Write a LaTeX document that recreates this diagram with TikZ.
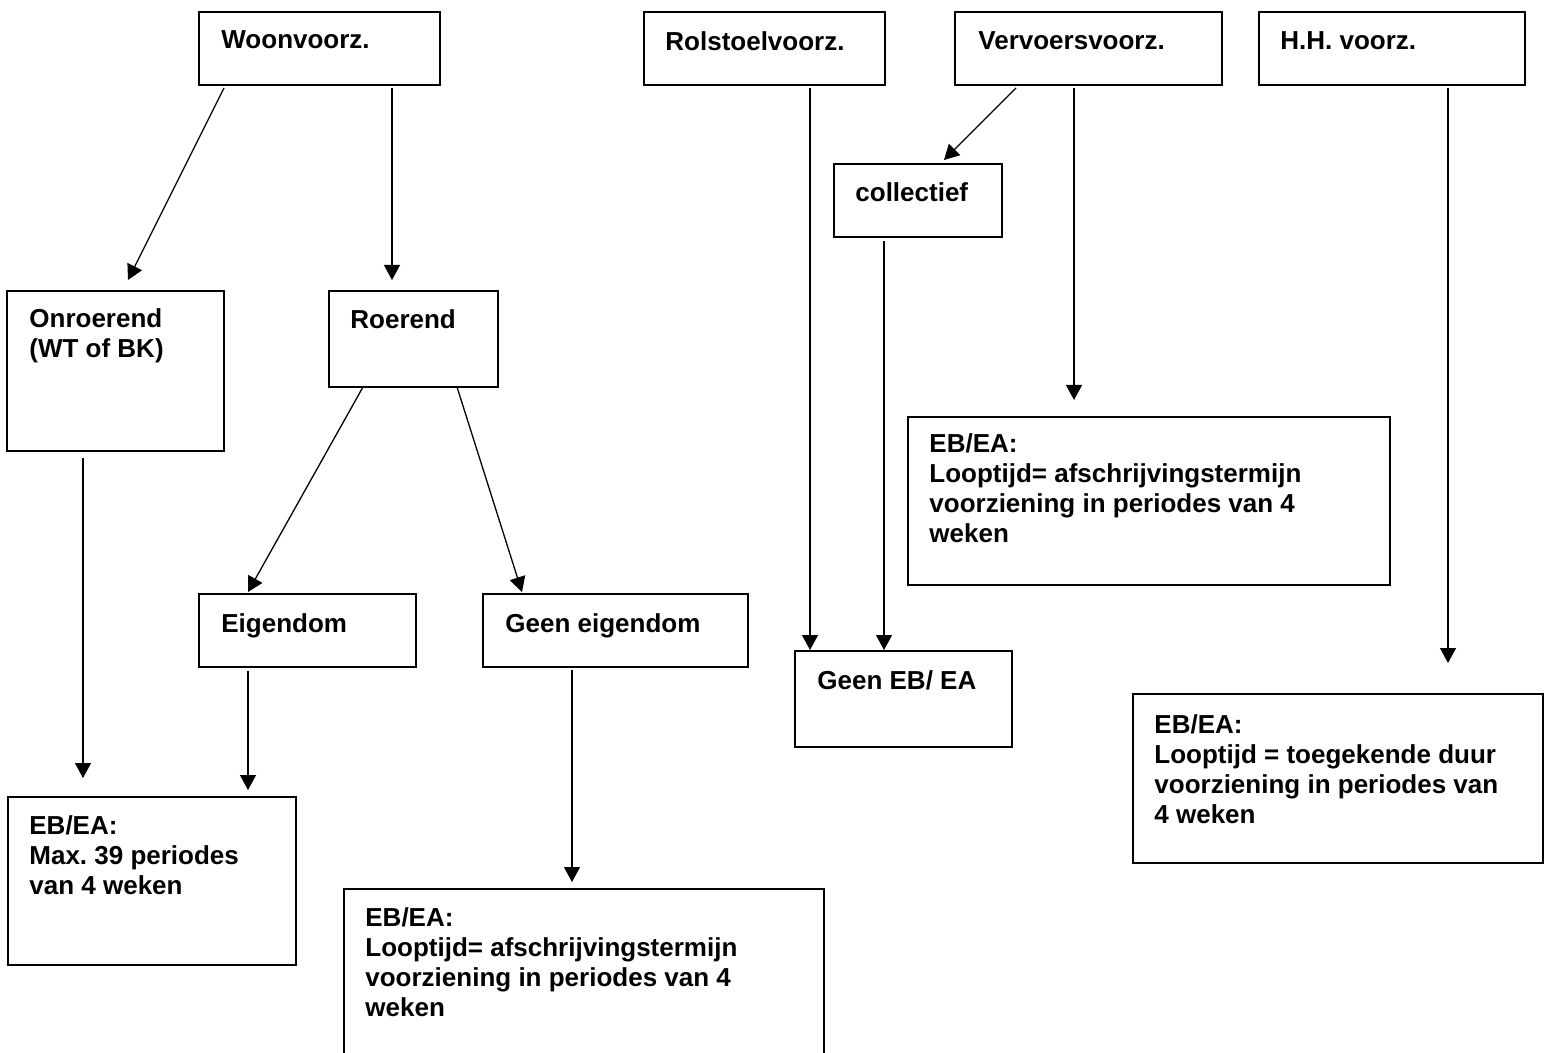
\documentclass[tikz,border=0pt]{standalone}
\usepackage{fontspec}
\setmainfont{Liberation Sans}
\frenchspacing
\usetikzlibrary{arrows.meta,calc}
\begin{document}
\begin{tikzpicture}[x=0.5pt,y=-0.5pt,
  box/.style={draw,line width=1pt,anchor=north west,inner sep=0pt,outer sep=0pt},
  txt/.style={anchor=north west,inner sep=0pt,align=left,
    font=\fontsize{13pt}{15pt}\selectfont\bfseries\frenchspacing},
  arr/.style={line width=0.65pt,-{Triangle[length=7.5pt,width=8pt]}}]
\useasboundingbox (0,0) rectangle (1546,1053);
\clip (0,0) rectangle (1546,1053);
\fill[white] (0,0) rectangle (1546,1053);
% boxes
\node[box,minimum width=120.5pt,minimum height=36.5pt] (woon) at (199,12) {};
\node[box,minimum width=120.5pt,minimum height=36.5pt] (rol) at (644,12) {};
\node[box,minimum width=133.5pt,minimum height=36.5pt] (verv) at (955,12) {};
\node[box,minimum width=133pt,minimum height=36.5pt] (hh) at (1259,12) {};
\node[box,minimum width=84pt,minimum height=36.5pt] (coll) at (834,164) {};
\node[box,minimum width=108.5pt,minimum height=80pt] (onr) at (7,291) {};
\node[box,minimum width=84.5pt,minimum height=48pt] (roer) at (329,291) {};
\node[box,minimum width=108.5pt,minimum height=36.5pt] (eig) at (199,594) {};
\node[box,minimum width=132.5pt,minimum height=36.5pt] (geig) at (483,594) {};
\node[box,minimum width=108.5pt,minimum height=48pt] (geb) at (795,651) {};
\node[box,minimum width=241pt,minimum height=84pt] (mid) at (908,417) {};
\node[box,minimum width=205pt,minimum height=84.5pt] (hhr) at (1133,694) {};
\node[box,minimum width=144pt,minimum height=84pt] (lres) at (8,797) {};
\node[box,minimum width=240pt,minimum height=120pt] (bres) at (344,889) {};
% texts
\node[txt] (woonT) at ($(woon.north west)+(22,18)$) {Woonvoorz.};
\node[txt] (rolT) at ($(rol.north west)+(21,19)$) {Rolstoelvoorz.};
\node[txt] (vervT) at ($(verv.north west)+(23,19)$) {Vervoersvoorz.};
\node[txt] (hhT) at ($(hh.north west)+(21,19)$) {H.H. voorz.};
\node[txt] (collT) at ($(coll.north west)+(21,18)$) {collectief};
\node[txt] (onrT) at ($(onr.north west)+(22,17)$) {Onroerend\\(WT of BK)};
\node[txt] (roerT) at ($(roer.north west)+(21,18)$) {Roerend};
\node[txt] (eigT) at ($(eig.north west)+(22,19)$) {Eigendom};
\node[txt] (geigT) at ($(geig.north west)+(22,19)$) {Geen eigendom};
\node[txt] (gebT) at ($(geb.north west)+(22,19)$) {Geen EB/ EA};
\node[txt] (midT) at ($(mid.north west)+(21,16)$) {EB/EA:\\Looptijd= afschrijvingstermijn\\voorziening in periodes van 4\\weken};
\node[txt] (hhrT) at ($(hhr.north west)+(21,20)$) {EB/EA:\\Looptijd = toegekende duur\\voorziening in periodes van\\4 weken};
\node[txt] (lresT) at ($(lres.north west)+(21,18)$) {EB/EA:\\Max. 39 periodes\\van 4 weken};
\node[txt] (bresT) at ($(bres.north west)+(21,18)$) {EB/EA:\\Looptijd= afschrijvingstermijn\\voorziening in periodes van 4\\weken};
% connectors
\draw[arr] ($(woon.south west)+(25,3)$) -- ($(onr.north west)+(121,-11)$);
\draw[arr] ($(woon.south west)+(193,3)$) -- ($(roer.north west)+(63,-11)$);
\draw[arr] ($(roer.south west)+(34,0)$) -- ($(eig.north west)+(49,-2)$);
\draw[arr] ($(roer.south west)+(128,0)$) -- ($(geig.north west)+(39,-2)$);
\draw[arr] ($(onr.south west)+(76,7)$) -- ($(lres.north west)+(75,-19)$);
\draw[arr] ($(eig.south west)+(49,4)$) -- ($(lres.north west)+(240,-7)$);
\draw[arr] ($(geig.south west)+(89,3)$) -- ($(bres.north west)+(228,-7)$);
\draw[arr] ($(rol.south west)+(166,3)$) -- ($(geb.north west)+(15,-1)$);
\draw[arr] ($(verv.south west)+(61,3)$) -- ($(coll.north west)+(110,-4)$);
\draw[arr] ($(coll.south west)+(50,4)$) -- ($(geb.north west)+(89,-1)$);
\draw[arr] ($(verv.south west)+(119,3)$) -- ($(mid.north west)+(166,-17)$);
\draw[arr] ($(hh.south west)+(189,3)$) -- ($(hhr.north west)+(315,-31)$);
\end{tikzpicture}
\end{document}
